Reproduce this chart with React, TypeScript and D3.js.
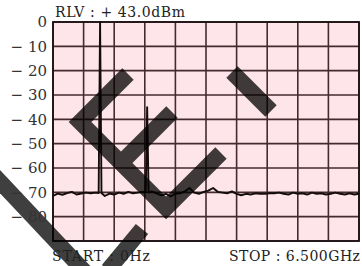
import React from 'react';
import * as d3 from 'd3';

const width = 362;
const height = 266;
const margin = { top: 22, right: 3, bottom: 25, left: 53 };

// frequency (GHz) of each sample of the noise floor
const freqGHz = [
  0.0, 0.1, 0.2, 0.3, 0.4, 0.5, 0.6, 0.7, 0.8, 0.9,
  1.0, 1.1, 1.2, 1.3, 1.4, 1.5, 1.6, 1.7, 1.8, 1.9,
  2.0, 2.1, 2.2, 2.3, 2.4, 2.5, 2.6, 2.7, 2.8, 2.9,
  3.0, 3.1, 3.2, 3.3, 3.4, 3.5, 3.6, 3.7, 3.8, 3.9,
  4.0, 4.1, 4.2, 4.3, 4.4, 4.5, 4.6, 4.7, 4.8, 4.9,
  5.0, 5.1, 5.2, 5.3, 5.4, 5.5, 5.6, 5.7, 5.8, 5.9,
  6.0, 6.1, 6.2, 6.3, 6.4, 6.5,
];
// level (dB)
const noiseDb = [
  -71.5, -70.5, -71.0, -70.3, -69.8, -70.9, -70.5, -70.1, -70.4, -70.1,
  -70.3, -71.5, -70.5, -70.9, -70.1, -70.6, -69.8, -70.4, -70.1, -69.8,
  -70.0, -69.6, -70.4, -71.2, -70.6, -71.7, -70.6, -70.4, -69.6, -68.2,
  -70.1, -70.6, -69.8, -69.3, -68.2, -69.8, -70.1, -70.4, -69.6, -70.6,
  -71.2, -70.6, -70.9, -70.4, -70.6, -70.6, -70.4, -70.4, -70.1, -70.6,
  -70.9, -70.1, -70.6, -70.4, -70.9, -70.1, -70.6, -70.4, -70.9, -70.6,
  -70.1, -70.6, -70.9, -70.4, -70.9, -70.6,
];
// the carrier and its 2nd harmonic
const spikeGHz = [1.0, 2.0];
const spikeDb = [0, -35];

const yGridValues = [0, -10, -20, -30, -40, -50, -60, -70, -80, -90];
const yTickValues = [0, -10, -20, -30, -40, -50, -60, -70, -80];
const yTickLabels = ['0', '\u2212 10', '\u2212 20', '\u2212 30', '\u2212 40', '\u2212 50', '\u2212 60', '\u2212 70', '\u2212 80'];
const xGridValues = [0, 0.65, 1.3, 1.95, 2.6, 3.25, 3.9, 4.55, 5.2, 5.85, 6.5];

const titleText = 'RLV : + 43.0dBm';
const startText = 'START : 0Hz';
const stopText = 'STOP : 6.500GHz';

// the stamp laid over the picture (pixel coords)
const stamp = [
  [[128, 74], [80, 122], [166, 208], [221, 153]],
  [[121, 163], [172, 112]],
  [[232, 72], [271, 111]],
  [[-10, 171], [86, 273]],
  [[142, 229], [108, 270]],
];

const App = () => {
  const x = d3.scaleLinear().domain([0, 6.5]).range([margin.left, width - margin.right]);
  const y = d3.scaleLinear().domain([-90, 0]).range([height - margin.bottom, margin.top]);

  // build the trace: noise floor with the two spikes put in
  const pts: [number, number][] = [];
  freqGHz.forEach((f, i) => {
    const k = spikeGHz.indexOf(f);
    if (k < 0) {
      pts.push([f, noiseDb[i]]);
    } else {
      pts.push([f - 0.03, noiseDb[i]]);
      pts.push([f, spikeDb[k]]);
      pts.push([f + 0.03, noiseDb[i]]);
    }
  });

  const line = d3.line<[number, number]>().x(d => x(d[0])).y(d => y(d[1]));
  const stampLine = d3.line<number[]>().x(d => d[0]).y(d => d[1]);

  const font = "'DejaVu Serif', serif";

  return (
    <div style={{ position: 'fixed', left: 0, top: 0 }}>
      <svg width={width} height={height} style={{ display: 'block', background: '#fff' }}>
        <rect x={x(0)} y={y(0)} width={x(6.5) - x(0)} height={y(-90) - y(0)} fill="#fde5e9" />
        {yGridValues.map(v => (
          <line key={'h' + v} x1={x(0)} x2={x(6.5)} y1={y(v)} y2={y(v)} stroke="#452a2e" strokeWidth={1.6} />
        ))}
        {xGridValues.map(v => (
          <line key={'v' + v} x1={x(v)} x2={x(v)} y1={y(0)} y2={y(-90)} stroke="#452a2e" strokeWidth={1.6} />
        ))}
        <rect x={x(0)} y={y(0)} width={x(6.5) - x(0)} height={y(-90) - y(0)} fill="none" stroke="#1e1214" strokeWidth={1.8} />

        <path d={line(pts) || ''} fill="none" stroke="#140c0c" strokeWidth={1.9} strokeLinejoin="round" />

        <g opacity={0.75}>
          {stamp.map((s, i) => (
            <path key={i} d={stampLine(s) || ''} fill="none" stroke="#000" strokeWidth={16} strokeLinejoin="miter" strokeLinecap="butt" />
          ))}
        </g>

        {yTickValues.map((v, i) => (
          <text key={'t' + v} x={47} y={y(v)} dy="0.36em" textAnchor="end" fontFamily={font} fontSize={15} fill="#333">
            {yTickLabels[i]}
          </text>
        ))}
        <text x={55} y={17} fontFamily={font} fontSize={14} fill="#222" textLength={130} lengthAdjust="spacing">{titleText}</text>
        <text x={52} y={261} fontFamily={font} fontSize={14} fill="#222" textLength={98} lengthAdjust="spacing">{startText}</text>
        <text x={360} y={261} textAnchor="end" fontFamily={font} fontSize={14} fill="#222" textLength={131} lengthAdjust="spacing">{stopText}</text>
      </svg>
    </div>
  );
};

export default App;
